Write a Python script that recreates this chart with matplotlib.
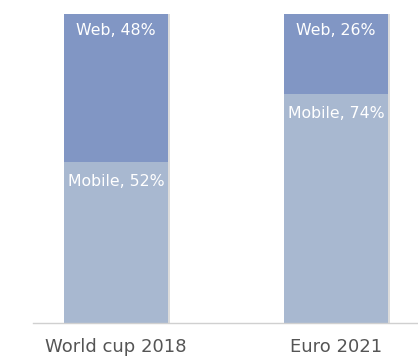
import matplotlib.pyplot as plt

events = ["World cup 2018", "Euro 2021"]
mobile = [52, 74]
web = [48, 26]

mobile_color = "#a8b8d0"
web_color = "#8196c4"

fig = plt.figure(figsize=(4.18, 3.61), dpi=100)
ax = fig.add_axes([33 / 418, 38 / 361, 385 / 418, 309.5 / 361])

x = range(len(events))
width = 0.473

# soft shadow on the right of each bar
ax.bar([i + 0.01 for i in x], [m + w for m, w in zip(mobile, web)], width,
       color="#dcdcdc", zorder=1)
ax.bar(x, mobile, width, color=mobile_color, zorder=2)
ax.bar(x, web, width, bottom=mobile, color=web_color, zorder=2)

for i in x:
    ax.text(i, 100 - 5.6, f"Web, {web[i]}%", ha="center", va="center",
            color="white", fontsize=11.3, family="DejaVu Sans")
    ax.text(i, mobile[i] - 6.3, f"Mobile, {mobile[i]}%", ha="center", va="center",
            color="white", fontsize=11.3, family="DejaVu Sans")

ax.set_xlim(-0.377, 1.373)
ax.set_ylim(0, 100)
ax.set_yticks([])
ax.set_xticks(list(x))
ax.set_xticklabels(events, fontsize=13, color="#555555", family="DejaVu Sans")
ax.tick_params(axis="x", length=0, pad=11)
for side in ["top", "right", "left"]:
    ax.spines[side].set_visible(False)
ax.spines["bottom"].set_color("#d0d0d0")
ax.spines["bottom"].set_linewidth(1)

fig.savefig("out.png", dpi=100)
